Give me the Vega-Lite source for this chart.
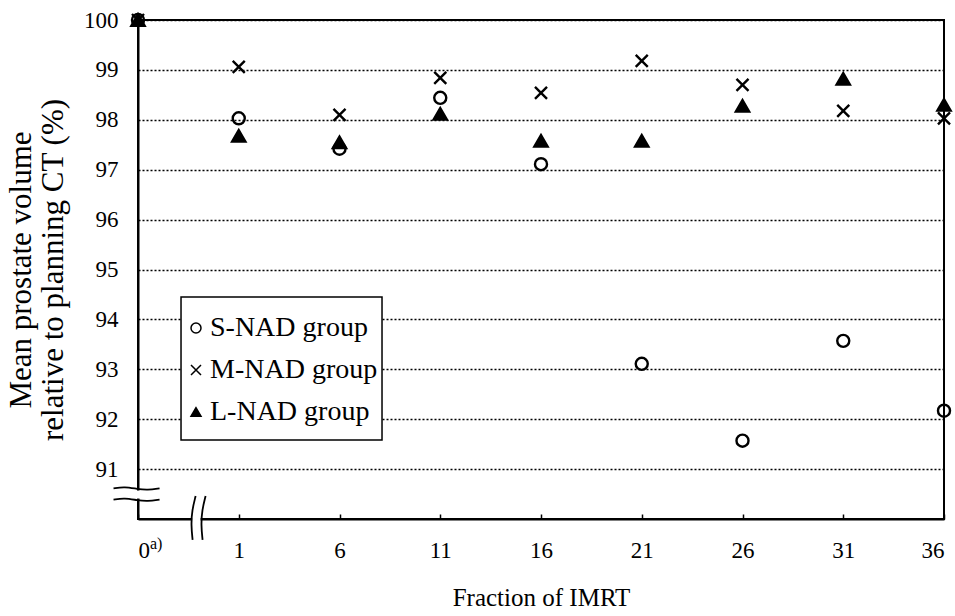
{
  "$schema": "https://vega.github.io/schema/vega-lite/v6.json",
  "autosize": {"type": "none"},
  "padding": {"left": 138, "top": 20, "right": 11, "bottom": 97},
  "width": 806,
  "height": 499,
  "config": {
    "font": "Liberation Serif",
    "view": {"stroke": "black", "strokeWidth": 2},
    "axis": {"labelFont": "Liberation Serif", "titleFont": "Liberation Serif", "labelColor": "black", "titleColor": "black", "titleFontWeight": "normal"},
    "legend": {"labelFont": "Liberation Serif"}
  },
  "datasets": {
    "points": [
      {"fraction": "0", "idx": 0, "group": "S-NAD group", "volume": 100},
      {"fraction": "0", "idx": 0, "group": "M-NAD group", "volume": 100},
      {"fraction": "0", "idx": 0, "group": "L-NAD group", "volume": 100},
      {"fraction": "1", "idx": 1, "group": "S-NAD group", "volume": 98.03},
      {"fraction": "1", "idx": 1, "group": "M-NAD group", "volume": 99.06},
      {"fraction": "1", "idx": 1, "group": "L-NAD group", "volume": 97.68},
      {"fraction": "6", "idx": 2, "group": "S-NAD group", "volume": 97.42},
      {"fraction": "6", "idx": 2, "group": "M-NAD group", "volume": 98.10},
      {"fraction": "6", "idx": 2, "group": "L-NAD group", "volume": 97.55},
      {"fraction": "11", "idx": 3, "group": "S-NAD group", "volume": 98.44},
      {"fraction": "11", "idx": 3, "group": "M-NAD group", "volume": 98.84},
      {"fraction": "11", "idx": 3, "group": "L-NAD group", "volume": 98.12},
      {"fraction": "16", "idx": 4, "group": "S-NAD group", "volume": 97.11},
      {"fraction": "16", "idx": 4, "group": "M-NAD group", "volume": 98.54},
      {"fraction": "16", "idx": 4, "group": "L-NAD group", "volume": 97.58},
      {"fraction": "21", "idx": 5, "group": "S-NAD group", "volume": 93.11},
      {"fraction": "21", "idx": 5, "group": "M-NAD group", "volume": 99.18},
      {"fraction": "21", "idx": 5, "group": "L-NAD group", "volume": 97.58},
      {"fraction": "26", "idx": 6, "group": "S-NAD group", "volume": 91.57},
      {"fraction": "26", "idx": 6, "group": "M-NAD group", "volume": 98.70},
      {"fraction": "26", "idx": 6, "group": "L-NAD group", "volume": 98.28},
      {"fraction": "31", "idx": 7, "group": "S-NAD group", "volume": 93.57},
      {"fraction": "31", "idx": 7, "group": "M-NAD group", "volume": 98.18},
      {"fraction": "31", "idx": 7, "group": "L-NAD group", "volume": 98.82},
      {"fraction": "36", "idx": 8, "group": "S-NAD group", "volume": 92.17},
      {"fraction": "36", "idx": 8, "group": "M-NAD group", "volume": 98.03},
      {"fraction": "36", "idx": 8, "group": "L-NAD group", "volume": 98.30}
    ],
    "gaps": [
      {"part": "xgap", "k": 1, "idx": 0.537, "volume": 90.0},
      {"part": "xgap", "k": 2, "idx": 0.621, "volume": 90.0},
      {"part": "ygap", "k": 1, "idx": 0, "volume": 90.57},
      {"part": "ygap", "k": 2, "idx": 0, "volume": 90.41}
    ],
    "breaks": [
      {"part": "y1", "k": 1, "idx": -0.243, "volume": 90.615},
      {"part": "y1", "k": 2, "idx": -0.134, "volume": 90.647},
      {"part": "y1", "k": 3, "idx": -0.005, "volume": 90.601},
      {"part": "y1", "k": 4, "idx": 0.094, "volume": 90.581},
      {"part": "y1", "k": 5, "idx": 0.214, "volume": 90.615},
      {"part": "y2", "k": 1, "idx": -0.243, "volume": 90.389},
      {"part": "y2", "k": 2, "idx": -0.134, "volume": 90.421},
      {"part": "y2", "k": 3, "idx": -0.005, "volume": 90.375},
      {"part": "y2", "k": 4, "idx": 0.094, "volume": 90.355},
      {"part": "y2", "k": 5, "idx": 0.214, "volume": 90.389},
      {"part": "x1", "k": 1, "idx": 0.572, "volume": 90.461},
      {"part": "x1", "k": 2, "idx": 0.537, "volume": 90.18},
      {"part": "x1", "k": 3, "idx": 0.527, "volume": 89.88},
      {"part": "x1", "k": 4, "idx": 0.542, "volume": 89.58},
      {"part": "x2", "k": 1, "idx": 0.671, "volume": 90.461},
      {"part": "x2", "k": 2, "idx": 0.636, "volume": 90.18},
      {"part": "x2", "k": 3, "idx": 0.626, "volume": 89.88},
      {"part": "x2", "k": 4, "idx": 0.641, "volume": 89.58}
    ]
  },
  "layer": [
    {
      "data": {"values": [{}]},
      "mark": {"type": "rect", "fill": "white", "stroke": "black", "strokeWidth": 1.5},
      "encoding": {
        "x": {"datum": 0.427, "type": "quantitative", "scale": {"domain": [0, 8], "nice": false, "zero": false}},
        "x2": {"datum": 2.422},
        "y": {"datum": 94.45, "type": "quantitative", "scale": {"domain": [90, 100], "nice": false, "zero": false}},
        "y2": {"datum": 91.583}
      }
    },
    {
      "data": {"name": "points"},
      "mark": {"type": "point", "strokeWidth": 2.4, "stroke": "black", "opacity": 1},
      "encoding": {
        "x": {
          "field": "idx", "type": "quantitative",
          "scale": {"domain": [0, 8], "nice": false, "zero": false},
          "axis": {
            "values": [0, 1, 2, 3, 4, 5, 6, 7, 8],
            "labelExpr": "['0','1','6','11','16','21','26','31','36'][datum.value]",
            "grid": false,
            "domainColor": "black", "domainWidth": 2,
            "tickColor": "black", "tickSize": -5, "tickWidth": 1.5,
            "labelFontSize": 23, "labelPadding": 25,
            "title": "Fraction of IMRT", "titleFontSize": 25, "titlePadding": 23
          }
        },
        "y": {
          "field": "volume", "type": "quantitative",
          "scale": {"domain": [90, 100], "nice": false, "zero": false},
          "axis": {
            "values": [91, 92, 93, 94, 95, 96, 97, 98, 99, 100],
            "grid": true, "gridColor": "black", "gridDash": [2, 2], "gridWidth": 1.3,
            "domainColor": "black", "domainWidth": 2,
            "ticks": false,
            "labelFontSize": 23, "labelPadding": 20,
            "title": ["Mean prostate volume", "relative to planning CT (%)"],
            "titleFontSize": 31, "titleLineHeight": 32, "titlePadding": 14
          }
        },
        "shape": {
          "field": "group", "type": "nominal",
          "scale": {"domain": ["S-NAD group", "M-NAD group", "L-NAD group"], "range": ["circle", "M-1,-1L1,1M1,-1L-1,1", "triangle-up"]},
          "legend": {
            "title": null, "orient": "none", "legendX": 44, "legendY": 294, "zindex": 2,
            "padding": 0, "rowPadding": 14, "labelFontSize": 28, "labelOffset": 0, "labelLimit": 400, "labelColor": "black",
            "encode": {"symbols": {"update": {
              "size": {"signal": "datum.value === 'L-NAD group' ? 130 : (datum.value === 'M-NAD group' ? 70 : 90)"},
              "strokeWidth": {"signal": "datum.value === 'M-NAD group' ? 1.5 : 2"},
              "stroke": {"value": "black"}
            }}}
          }
        },
        "fill": {
          "field": "group", "type": "nominal",
          "scale": {"domain": ["S-NAD group", "M-NAD group", "L-NAD group"], "range": ["transparent", "transparent", "black"]},
          "legend": {
            "title": null, "orient": "none", "legendX": 44, "legendY": 294, "zindex": 2,
            "padding": 0, "rowPadding": 14, "labelFontSize": 28, "labelOffset": 0, "labelLimit": 400, "labelColor": "black"
          }
        },
        "size": {
          "condition": {"test": "datum.group === 'L-NAD group'", "value": 175},
          "value": 145
        }
      }
    },
    {
      "data": {"name": "gaps"},
      "mark": {"type": "line", "stroke": "white", "strokeWidth": 5},
      "encoding": {
        "x": {"field": "idx", "type": "quantitative"},
        "y": {"field": "volume", "type": "quantitative"},
        "detail": {"field": "part"},
        "order": {"field": "k"}
      }
    },
    {
      "data": {"name": "breaks"},
      "mark": {"type": "line", "stroke": "black", "strokeWidth": 1.8, "interpolate": "basis"},
      "encoding": {
        "x": {"field": "idx", "type": "quantitative"},
        "y": {"field": "volume", "type": "quantitative"},
        "detail": {"field": "part"},
        "order": {"field": "k"}
      }
    },
    {
      "data": {"values": [{"note": "a)"}]},
      "mark": {"type": "text", "align": "left", "baseline": "middle", "fontSize": 16, "dx": 12, "font": "Liberation Serif", "color": "black"},
      "encoding": {
        "x": {"datum": 0, "type": "quantitative"},
        "y": {"datum": 89.5, "type": "quantitative"},
        "text": {"field": "note"}
      }
    }
  ]
}
